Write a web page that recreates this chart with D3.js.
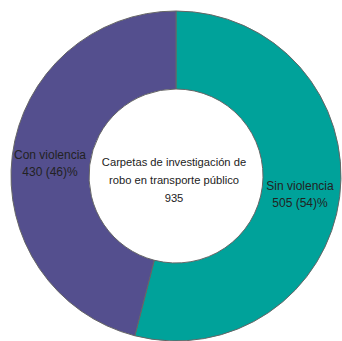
<!DOCTYPE html>
<html><head><meta charset="utf-8">
<script src="https://cdn.jsdelivr.net/npm/d3@7"></script>
<style>body{margin:0;background:#fff}svg{display:block}text{font-family:"Liberation Sans",Arial,sans-serif;font-size:12px;fill:#222}</style>
</head><body>
<script>
const categories = ["Sin violencia", "Con violencia"];
const values = [505, 430];
const labels = ["505 (54)%", "430 (46)%"];
const centerLines = ["Carpetas de investigación de", "robo en transporte público", "935"];
const colors = ["#00A29A", "#544F8E"];

const W = 342, H = 341, cx = 176, cy = 176, R = 165, r = 87;
const svg = d3.select("body").append("svg").attr("width", W).attr("height", H);
const g = svg.append("g").attr("transform", `translate(${cx},${cy})`);
const pie = d3.pie().sort(null).value(d => d)(values);
const arc = d3.arc().innerRadius(r).outerRadius(R);
g.selectAll("path").data(pie).join("path")
  .attr("d", arc).attr("fill", (d, i) => colors[i])
  .attr("stroke", "#666").attr("stroke-width", 1);

const labelPos = [[300, 190], [50, 159]];
categories.forEach((c, i) => {
  const t = svg.append("text").attr("text-anchor", "middle");
  t.append("tspan").attr("x", labelPos[i][0]).attr("y", labelPos[i][1]).text(c);
  t.append("tspan").attr("x", labelPos[i][0]).attr("y", labelPos[i][1] + 17).text(labels[i]);
});
const ct = svg.append("text").attr("text-anchor", "middle").style("font-size", "11.2px");
centerLines.forEach((l, i) => ct.append("tspan").attr("x", 174).attr("y", 166 + i * 18).text(l));
</script>
</body></html>
